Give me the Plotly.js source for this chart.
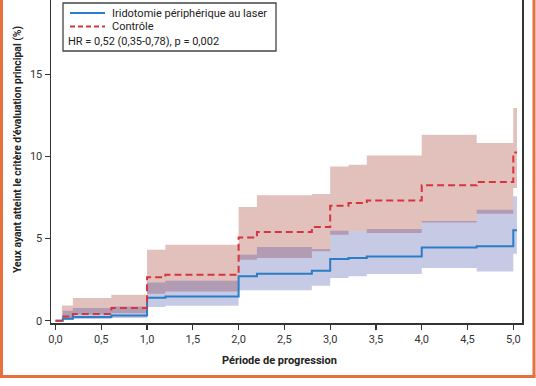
<!DOCTYPE html>
<html>
<head>
<meta charset="utf-8">
<script src="https://cdn.plot.ly/plotly-3.0.1.min.js"></script>
<style>html,body{margin:0;padding:0;background:#fff;}#chart{width:536px;height:386px;}</style>
</head>
<body>
<div id="chart"></div>
<script>
// Time points (years)
const tLaser   = [0, 0.08, 0.19, 0.61, 1.0, 1.2, 2.0, 2.2, 2.8, 3.0, 3.2, 3.4, 4.0, 4.6, 5.0, 5.04];
const tControl = [0, 0.07, 0.19, 0.61, 1.0, 1.2, 2.0, 2.2, 2.8, 3.0, 3.2, 3.4, 4.0, 4.6, 5.0, 5.04];

// Laser peripheral iridotomy (%)
const laserEst   = [0, 0.12, 0.22, 0.32, 1.40, 1.48, 2.70, 2.86, 3.04, 3.75, 3.81, 3.91, 4.46, 4.53, 5.50, 5.50];
const laserLower = [0, 0.04, 0.10, 0.16, 0.83, 0.91, 1.85, 1.85, 2.13, 2.60, 2.70, 2.84, 3.21, 3.00, 4.08, 4.08];
const laserUpper = [0, 0.61, 0.77, 0.87, 2.33, 2.43, 4.02, 4.48, 4.36, 5.48, 5.45, 5.58, 6.07, 6.76, 7.57, 7.57];

// Control (%)
const controlEst   = [0, 0.26, 0.41, 0.77, 2.64, 2.80, 5.07, 5.40, 5.70, 7.00, 7.16, 7.32, 8.24, 8.44, 10.24, 10.24];
const controlLower = [0, 0.16, 0.37, 0.45, 1.64, 1.78, 3.71, 3.81, 4.22, 5.23, 5.45, 5.34, 5.98, 6.51, 8.08, 8.08];
const controlUpper = [0, 0.93, 1.38, 1.58, 4.32, 4.63, 6.92, 7.63, 7.71, 9.39, 9.49, 10.06, 11.32, 10.81, 12.95, 12.95];

// Labels
const seriesNames = ["Iridotomie périphérique au laser", "Contrôle"];
const hrText = "HR = 0,52 (0,35-0,78), p = 0,002";
const xTickVals = [0, 0.5, 1, 1.5, 2, 2.5, 3, 3.5, 4, 4.5, 5];
const xTickText = ["0,0","0,5","1,0","1,5","2,0","2,5","3,0","3,5","4,0","4,5","5,0"];
const yTickVals = [0, 5, 10, 15];
const xTitle = "Période de progression";
const yTitle = "Yeux ayant atteint le critère d’évaluation principal (%)";

const FONT = "Roboto, 'DejaVu Sans', sans-serif";
const blue = "rgb(43,125,200)";
const red = "rgb(214,52,62)";

const traces = [
  {x: tControl, y: controlLower, mode: "lines", line: {width: 0, shape: "hv"}, hoverinfo: "skip", showlegend: false},
  {x: tControl, y: controlUpper, mode: "lines", line: {width: 0, shape: "hv"}, fill: "tonexty",
   fillcolor: "rgb(226,192,187)", hoverinfo: "skip", showlegend: false},
  {x: tLaser, y: laserLower, mode: "lines", line: {width: 0, shape: "hv"}, hoverinfo: "skip", showlegend: false},
  {x: tLaser, y: laserUpper, mode: "lines", line: {width: 0, shape: "hv"}, fill: "tonexty",
   fillcolor: "rgba(51,65,157,0.28)", hoverinfo: "skip", showlegend: false},
  {x: tLaser, y: laserEst, name: seriesNames[0], mode: "lines", line: {color: blue, width: 2, shape: "hv"}, showlegend: false},
  {x: tControl, y: controlEst, name: seriesNames[1], mode: "lines", line: {color: red, width: 2, shape: "hv", dash: "7px,4px"}, showlegend: false}
];

// plot area in pixels: x 51..522, y 0..323
const L = 51, W = 471, H = 323;
const px = v => (v - L) / W;
const py = v => (H - v) / H;

const layout = {
  width: 536, height: 386,
  margin: {l: L, r: 536 - L - W, t: 0, b: 386 - H},
  paper_bgcolor: "#fff", plot_bgcolor: "#fff",
  font: {family: FONT, size: 11, color: "#333"},
  showlegend: false,
  xaxis: {
    range: [-0.049, 5.095], tickvals: xTickVals, ticktext: xTickText,
    ticks: "outside", ticklen: 5, tickwidth: 1.3, tickcolor: "#333",
    showline: true, linecolor: "#333", linewidth: 1.5, mirror: false,
    showgrid: false, zeroline: false, tickfont: {size: 11, color: "#333"}
  },
  yaxis: {
    range: [-0.14, 19.52], tickvals: yTickVals,
    ticks: "outside", ticklen: 5, tickwidth: 1.3, tickcolor: "#333",
    showline: true, linecolor: "#333", linewidth: 1.5, mirror: true,
    showgrid: false, zeroline: false, tickfont: {size: 11, color: "#333"}
  },
  shapes: [
    // legend box
    {type: "rect", xref: "paper", yref: "paper", x0: px(63), x1: px(276), y0: py(51), y1: py(3),
     line: {color: "#444", width: 1.3}, fillcolor: "#fff"},
    {type: "line", xref: "paper", yref: "paper", x0: px(70), x1: px(105), y0: py(13), y1: py(13),
     line: {color: blue, width: 2}},
    {type: "line", xref: "paper", yref: "paper", x0: px(70), x1: px(105), y0: py(26.5), y1: py(26.5),
     line: {color: red, width: 2, dash: "5px,3px"}},
    // orange frame
    {type: "line", xref: "paper", yref: "paper", x0: px(1.5), x1: px(1.5), y0: py(-5), y1: py(376.5),
     line: {color: "#e8703c", width: 3}},
    {type: "line", xref: "paper", yref: "paper", x0: px(534), x1: px(534), y0: py(-5), y1: py(376.5),
     line: {color: "#e8703c", width: 3}},
    {type: "line", xref: "paper", yref: "paper", x0: px(0), x1: px(535.5), y0: py(376.5), y1: py(376.5),
     line: {color: "#e8703c", width: 3}}
  ],
  annotations: [
    {xref: "paper", yref: "paper", x: px(110), y: py(13), xanchor: "left", yanchor: "middle",
     text: seriesNames[0], showarrow: false, font: {size: 11, color: "#222"}},
    {xref: "paper", yref: "paper", x: px(110), y: py(26.5), xanchor: "left", yanchor: "middle",
     text: seriesNames[1], showarrow: false, font: {size: 11, color: "#222"}},
    {xref: "paper", yref: "paper", x: px(66), y: py(41.5), xanchor: "left", yanchor: "middle",
     text: hrText, showarrow: false, font: {size: 11, color: "#222"}},
    {xref: "paper", yref: "paper", x: px(279), y: py(360), xanchor: "center", yanchor: "middle",
     text: "<b>" + xTitle + "</b>", showarrow: false, font: {size: 11, color: "#222"}},
    {xref: "paper", yref: "paper", x: px(17), y: py(149), xanchor: "center", yanchor: "middle",
     text: "<b>" + yTitle + "</b>", textangle: -90, showarrow: false, font: {size: 10.4, color: "#222"}}
  ]
};

Plotly.newPlot("chart", traces, layout, {staticPlot: true, displayModeBar: false});
</script>
</body>
</html>
